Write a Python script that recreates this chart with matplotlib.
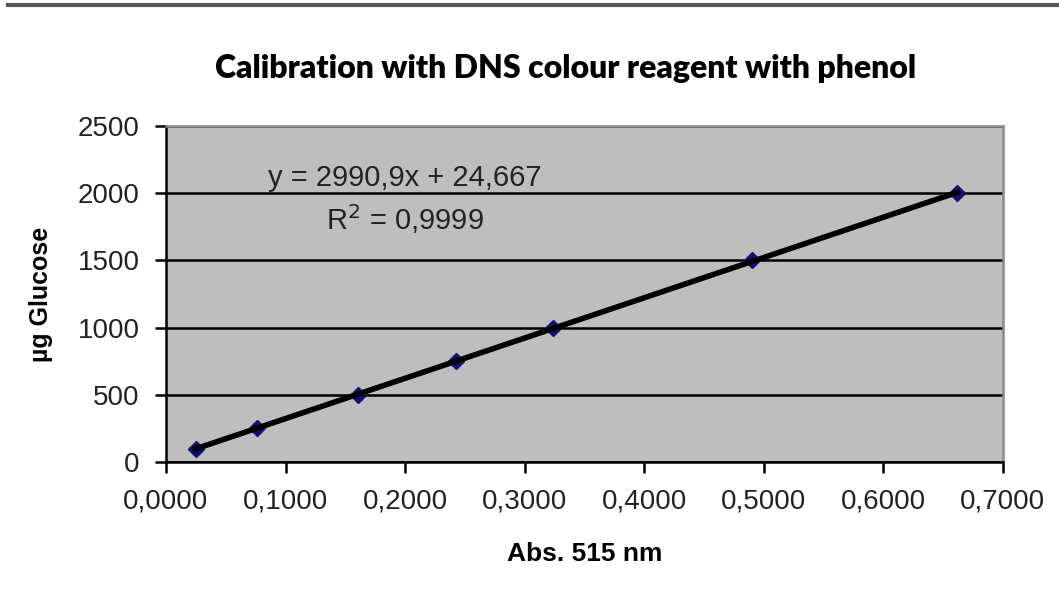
import numpy as np
import matplotlib
matplotlib.use("Agg")
import matplotlib.pyplot as plt
from matplotlib.ticker import FuncFormatter, MultipleLocator
from matplotlib.lines import Line2D

# Calibration data
absorbance = [0.025, 0.076, 0.161, 0.243, 0.324, 0.490, 0.662]
glucose_ug = [100, 250, 500, 750, 1000, 1500, 2000]

title = "Calibration with DNS colour reagent with phenol"
equation = "y = 2990,9x + 24,667"
r2_text = "R$^2$ = 0,9999"

fig = plt.figure(figsize=(10.59, 5.99), dpi=100)
ax = fig.add_axes([0.1567, 0.2287, 0.947 - 0.1567, 0.7896 - 0.2287])

ax.set_facecolor("#bebebe")
ax.set_xlim(0, 0.7)
ax.set_ylim(0, 2500)
ax.xaxis.set_major_locator(MultipleLocator(0.1))
ax.yaxis.set_major_locator(MultipleLocator(500))
ax.xaxis.set_major_formatter(FuncFormatter(lambda v, p: f"{v:.4f}".replace(".", ",")))
ax.yaxis.set_major_formatter(FuncFormatter(lambda v, p: f"{int(v)}"))

ax.grid(axis="y", color="black", linewidth=1.8)
ax.set_axisbelow(True)

for s in ["left", "bottom"]:
    ax.spines[s].set_color("black")
    ax.spines[s].set_linewidth(1.8)
for s in ["top", "right"]:
    ax.spines[s].set_color("#8c8c8c")
    ax.spines[s].set_linewidth(1.8)

ax.tick_params(direction="out", length=8, width=1.8, colors="black",
               labelsize=20, pad=11)
for lbl in ax.get_xticklabels() + ax.get_yticklabels():
    lbl.set_family("Liberation Sans")
    lbl.set_color("#222222")

# markers under the trendline, like Excel
ax.plot(absorbance, glucose_ug, linestyle="none", marker="D", markersize=8,
        color="#10106e", zorder=3, clip_on=False)

slope, intercept = np.polyfit(absorbance, glucose_ug, 1)
xs = np.array([min(absorbance), max(absorbance)])
ax.plot(xs, slope * xs + intercept, color="black", linewidth=4, zorder=4)

ax.text(0.2, 2110, equation, fontsize=21, family="Liberation Sans",
        color="#222222", ha="center", va="center")
ax.text(0.2, 1810, r2_text, fontsize=21, family="Liberation Sans",
        color="#222222", ha="center", va="center")

ax.set_xlabel("Abs. 515 nm", fontsize=19, fontweight="bold",
              family="Liberation Sans", labelpad=20)
ax.set_ylabel("µg Glucose", fontsize=18, fontweight="bold",
              family="Liberation Sans", labelpad=18)

fig.text(0.534, 0.886, title, fontsize=23, fontweight="heavy", family="Lato",
         ha="center", va="center")

fig.add_artist(Line2D([0.008, 1.0], [0.992, 0.992], transform=fig.transFigure,
                      color="#555555", linewidth=3))

fig.savefig("out.png", dpi=100)
